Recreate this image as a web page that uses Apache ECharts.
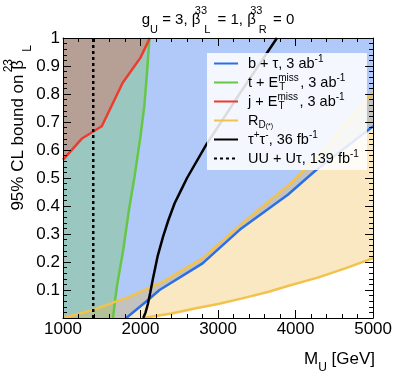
<!DOCTYPE html>
<html><head><meta charset="utf-8">
<script src="https://cdn.jsdelivr.net/npm/echarts@6/dist/echarts.min.js"></script>
<style>html,body{margin:0;padding:0;background:#fff}#c{width:395px;height:379px}</style>
</head><body><div id="c"></div>
<script>
// ---- data ----
const xTicks = [1000, 2000, 3000, 4000, 5000];
const yTicks = [0.1, 0.2, 0.3, 0.4, 0.5, 0.6, 0.7, 0.8, 0.9, 1];
// b + tau, 3 ab^-1 (blue)
const blueM = [1815, 2070, 2245, 2800, 3300, 3900, 4250, 5000];
const blueB = [0, 0.058, 0.1, 0.195, 0.32, 0.44, 0.525, 0.685];
// t + E_T^miss, 3 ab^-1 (green)
const greenM = [1645, 1670, 1700, 1775, 1850, 1920, 2000, 2050, 2085, 2115];
const greenB = [0, 0.06, 0.12, 0.24, 0.385, 0.5, 0.65, 0.76, 0.88, 1.0];
// j + E_T^miss, 3 ab^-1 (red)
const redM = [1000, 1240, 1500, 1770, 2000, 2120];
const redB = [0.565, 0.64, 0.685, 0.84, 0.93, 1.0];
// R_D(*) band: upper and lower edges (yellow)
const rdUpM = [1000, 1390, 1645, 1860, 2290, 2800, 3310, 3910, 4400, 4765, 5000];
const rdUpB = [0, 0.029, 0.055, 0.076, 0.13, 0.213, 0.338, 0.475, 0.61, 0.73, 0.808];
const rdLoM = [2030, 2400, 2714, 3000, 3312, 3654, 3910, 4295, 4650, 5000];
const rdLoB = [0, 0.016, 0.035, 0.05, 0.07, 0.094, 0.115, 0.145, 0.178, 0.214];
// tau+ tau-, 36 fb^-1 (black)
const tauM = [2035, 2065, 2095, 2125, 2160, 2220, 2290, 2360, 2440, 2520, 2600, 2850, 3300, 3760];
const tauB = [0, 0.02, 0.05, 0.09, 0.14, 0.22, 0.29, 0.35, 0.41, 0.455, 0.5, 0.62, 0.81, 1.0];
// UU + U tau, 139 fb^-1 (dotted vertical)
const uuM = [1390, 1390];
const uuB = [0, 1];

const FONT = "'Liberation Sans', Arial, Helvetica, sans-serif";
const zip = (a, b) => a.map((v, i) => [v, b[i]]);

function polygon(points, fill) {
  return {
    type: 'custom', silent: true, z: 1, clip: true,
    data: [[points[0][0], points[0][1]]],
    renderItem: (params, api) => ({
      type: 'polygon',
      shape: { points: points.map(p => api.coord(p)) },
      style: { fill: fill }
    })
  };
}
function line(name, data, color, extra) {
  return Object.assign({
    type: 'line', name: name, data: data, symbol: 'none', z: 3, silent: true,
    lineStyle: { color: color, width: 2.5 }, itemStyle: { color: color }
  }, extra || {});
}

const bluePoly = [[1000, 0]].concat(zip(blueM, blueB), [[5000, 1], [1000, 1]]);
const greenPoly = [[1000, 0]].concat(zip(greenM, greenB), [[1000, 1]]);
const redPoly = zip(redM, redB).concat([[1000, 1]]);
const rdPoly = zip(rdUpM, rdUpB).concat(zip(rdLoM, rdLoB).reverse());

const rich = {
  sup: { fontSize: 10, lineHeight: 10, verticalAlign: 'top', fontFamily: FONT, color: '#000' },
  sub: { fontSize: 10, lineHeight: 10, verticalAlign: 'bottom', fontFamily: FONT, color: '#000' },
  supz: { fontSize: 10, lineHeight: 10, verticalAlign: 'top', width: 1, fontFamily: FONT, color: '#000' },
  subw: { fontSize: 10, lineHeight: 10, verticalAlign: 'bottom', width: 21, fontFamily: FONT, color: '#000' },
  subs: { fontSize: 7, lineHeight: 15, verticalAlign: 'bottom', fontFamily: FONT, color: '#000' }
};
const legendText = {
  b: 'b + τ, 3 ab{sup|-1}',
  t: 't + E{supz|miss}{subw|T}, 3 ab{sup|-1}',
  j: 'j + E{supz|miss}{subw|T}, 3 ab{sup|-1}',
  R: 'R{sub|D}{subs|(*)}',
  tau: 'τ{sup|+}τ{sup|-}, 36 fb{sup|-1}',
  UU: 'UU + Uτ, 139 fb{sup|-1}'
};

const axisCommon = {
  type: 'value', min: 1000, max: 5000, interval: 1000, z: 5,
  axisLine: { show: true, onZero: false, lineStyle: { color: '#000', width: 1 } },
  axisTick: { show: true, inside: true, length: 8, lineStyle: { color: '#000', width: 1 } },
  minorTick: { show: true, splitNumber: 5, length: 4, lineStyle: { color: '#000', width: 1 } },
  splitLine: { show: false }, minorSplitLine: { show: false }
};
const yCommon = Object.assign({}, axisCommon, { min: 0, max: 1, interval: 0.1 });

const chart = echarts.init(document.getElementById('c'), null, { renderer: 'canvas' });
chart.setOption({
  animation: false,
  backgroundColor: '#fff',
  grid: { left: 63, right: 20, top: 38, bottom: 61 },
  xAxis: [
    Object.assign({}, axisCommon, { position: 'bottom',
      axisLabel: { show: true, fontSize: 17, color: '#000', fontFamily: FONT, margin: 3,
        formatter: v => xTicks.includes(v) ? String(v) : '' } }),
    Object.assign({}, axisCommon, { position: 'top', axisLabel: { show: false } })
  ],
  yAxis: [
    Object.assign({}, yCommon, { position: 'left',
      axisLabel: { show: true, fontSize: 17, color: '#000', fontFamily: FONT, margin: 3,
        formatter: v => { const r = Math.round(v * 10) / 10; return yTicks.includes(r) ? String(r) : ''; } } }),
    Object.assign({}, yCommon, { position: 'right', axisLabel: { show: false } })
  ],
  legend: {
    show: true, orient: 'vertical', left: 207, top: 53,
    data: ['b', 't', 'j', 'R', 'tau', 'UU'],
    backgroundColor: 'rgba(255,255,255,0.86)',
    padding: [1, 8, 2, 6], itemGap: 0, itemWidth: 24, itemHeight: 14,
    selectedMode: false,
    itemStyle: { opacity: 0 },
    formatter: n => legendText[n],
    textStyle: { fontSize: 14.5, lineHeight: 19, color: '#000', fontFamily: FONT, padding: [0, 0, 0, 5], rich: rich }
  },
  graphic: [
    { type: 'text', x: 218, y: 20, z: 10, style: {
      text: 'g{sub|U} = 3, β{supz|33}{subw|L} = 1, β{supz|33}{subw|R} = 0',
      font: '15px ' + FONT, fill: '#000', align: 'center', verticalAlign: 'middle', lineHeight: 30,
      rich: {
        sub: { fontSize: 11, lineHeight: 11, verticalAlign: 'bottom', fontFamily: FONT },
        supz: { fontSize: 11, lineHeight: 11, verticalAlign: 'top', width: 1, fontFamily: FONT },
        subw: { fontSize: 11, lineHeight: 11, verticalAlign: 'bottom', width: 12, fontFamily: FONT }
      } } },
    { type: 'text', x: 18, y: 45, rotation: Math.PI / 2, z: 10, style: {
      text: '95% CL bound on β{supz|23}{subw|L}',
      font: '17px ' + FONT, fill: '#000', align: 'right', verticalAlign: 'middle', lineHeight: 31,
      rich: {
        supz: { fontSize: 12, lineHeight: 12, verticalAlign: 'top', width: 1, fontFamily: FONT },
        subw: { fontSize: 12, lineHeight: 12, verticalAlign: 'bottom', width: 14, fontFamily: FONT }
      } } },
    { type: 'text', x: 375, y: 359, z: 10, style: {
      text: 'M{sub|U} [GeV]',
      font: '17px ' + FONT, fill: '#000', align: 'right', verticalAlign: 'middle', lineHeight: 30,
      rich: { sub: { fontSize: 12, lineHeight: 12, verticalAlign: 'bottom', fontFamily: FONT } } } }
  ],
  series: [
    polygon(bluePoly, 'rgba(60,120,240,0.4)'),
    polygon(greenPoly, 'rgba(120,200,110,0.4)'),
    polygon(redPoly, 'rgba(240,80,60,0.33)'),
    polygon(rdPoly, 'rgba(238,178,55,0.3)'),
    line('b', zip(blueM, blueB), '#2a6ee8'),
    line('t', zip(greenM, greenB), '#66c744'),
    line('j', zip(redM, redB), '#ee3b30'),
    line('R', zip(rdUpM, rdUpB), '#f3c24a'),
    line('R', zip(rdLoM, rdLoB), '#f3c24a'),
    line('tau', zip(tauM, tauB), '#000'),
    line('UU', zip(uuM, uuB), '#000', { lineStyle: { color: '#000', width: 2.5, type: [3, 3] } })
  ]
});
</script></body></html>
